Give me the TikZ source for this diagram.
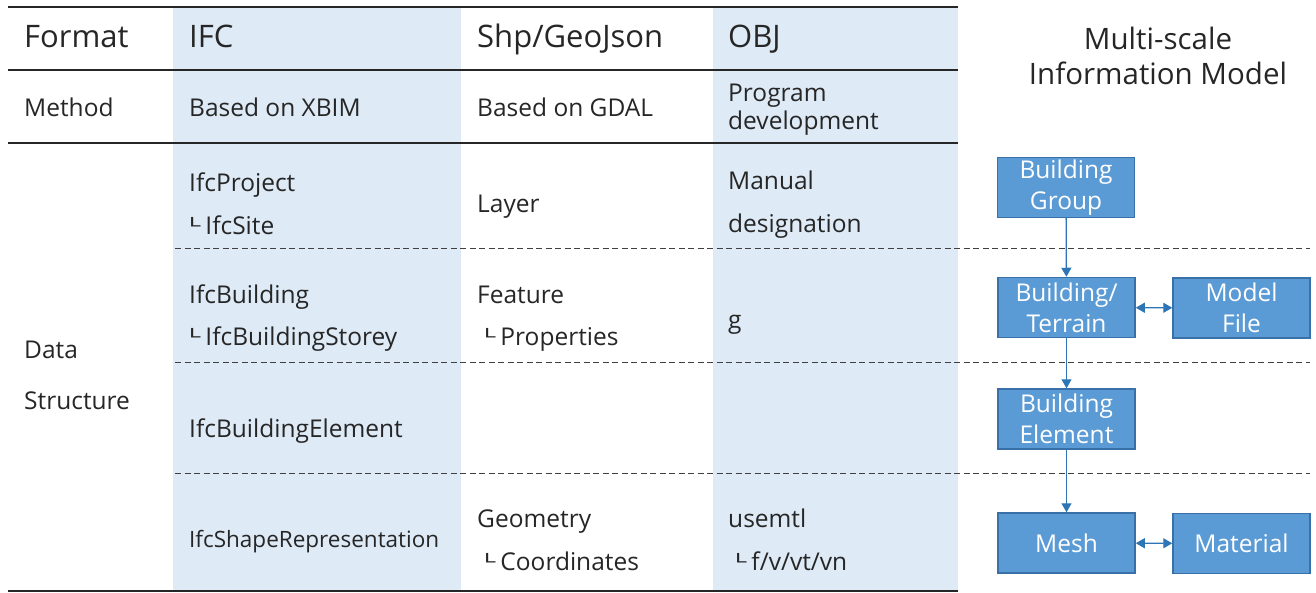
\documentclass[tikz,border=0pt]{standalone}
\usepackage{fontspec}
\setmainfont{Open Sans}
\newfontfamily\symfont{DejaVu Sans}
\usetikzlibrary{arrows.meta}

\definecolor{colshade}{HTML}{DEEAF6}
\definecolor{boxfill}{HTML}{5B9BD5}
\definecolor{boxline}{HTML}{3A70A8}
\definecolor{arrowblue}{HTML}{2E75B6}
\definecolor{txt}{HTML}{262626}

\newcommand\branch{{\symfont\fontsize{15}{15}\selectfont\raisebox{3pt}{\scalebox{1.8}[1]{└}}}}

\tikzstyle{every picture}+=[x=1pt,y=-1pt]
\tikzset{
  head/.style={anchor=base west,inner sep=0pt,text=txt,font=\fontsize{31}{35}\selectfont},
  title/.style={anchor=base,inner sep=0pt,text=txt,font=\fontsize{29.5}{35}\selectfont},
  cell/.style={anchor=base west,inner sep=0pt,text=txt,font=\fontsize{24.5}{28}\selectfont},
  rule/.style={line width=1.6pt,draw=black!85},
  sep/.style={dash pattern=on 6pt off 3.5pt,line width=0.9pt,draw=black!75},
  layer/.style={draw=boxline,line width=1.5pt,fill=boxfill,text=white,
    minimum width=137pt,minimum height=60pt,align=center,inner sep=0pt,
    font=\fontsize{24.5}{31}\selectfont},
  link/.style={draw=arrowblue,line width=1.3pt,-{Triangle[width=10pt,length=9pt]}},
  pair/.style={draw=arrowblue,line width=1.3pt,
    {Triangle[width=10pt,length=9pt]}-{Triangle[width=10pt,length=9pt]}}
}

\begin{document}
\begin{tikzpicture}
\useasboundingbox (0,0) rectangle (1316,593);

% shaded columns
\fill[colshade] (173,7) rectangle (461,591);
\fill[colshade] (713,7) rectangle (958,591);

% table rules
\draw[rule] (8,7) -- (958,7);
\draw[rule] (8,70) -- (958,70);
\draw[rule] (8,143) -- (958,143);
\draw[rule] (8,591) -- (958,591);
\draw[sep] (175,248) -- (1310,248);
\draw[sep] (175,362) -- (1310,362);
\draw[sep] (175,473) -- (1310,473);

% header
\node[head] (fmt) at (24,48) {Format};
\node[head] (ifc) at (189,48) {IFC};
\node[head] (shp) at (477,48) {Shp/GeoJson};
\node[head] (obj) at (728,48) {OBJ};
\node[title] (msim) at (1158,50) {Multi-scale};
\node[title] (model) at (1158,85) {Information Model};

% method row
\node[cell] (meth) at (24,117) {Method};
\node[cell] (xbim) at (189,117) {Based on XBIM};
\node[cell] (gdal) at (477,117) {Based on GDAL};
\node[cell] (prog) at (728,102) {Program};
\node[cell] (dev) at (728,130) {development};

% data structure
\node[cell] (data) at (24,358) {Data};
\node[cell] (struct) at (24,409) {Structure};

\node[cell] (proj) at (189,192) {IfcProject};
\node[cell] (site) at (184,235) {\branch\hspace{5pt}IfcSite};
\node[cell] (layer) at (477,213) {Layer};
\node[cell] (manual) at (728,190) {Manual};
\node[cell] (desig) at (728,233) {designation};

\node[cell] (bldg) at (189,304) {IfcBuilding};
\node[cell] (storey) at (184,345) {\branch\hspace{5pt}IfcBuildingStorey};
\node[cell] (feat) at (477,304) {Feature};
\node[cell] (prop) at (479,345) {\branch\hspace{5pt}Properties};
\node[cell] (grp) at (728,328) {g};

\node[cell] (elem) at (189,437) {IfcBuildingElement};

\node[cell,font=\fontsize{22.5}{26}\selectfont] (shape) at (189,547) {IfcShapeRepresentation};
\node[cell] (geom) at (477,527) {Geometry};
\node[cell] (coord) at (479,570) {\branch\hspace{5pt}Coordinates};
\node[cell] (usemtl) at (728,527) {usemtl};
\node[cell] (face) at (730,570) {\branch\hspace{5pt}f/v/vt/vn};

% multi-scale model
\node[layer] (group) at (1066,187.5) {Building\\Group};
\node[layer] (terrain) at (1066.5,307.5) {Building/\\Terrain};
\node[layer] (file) at (1241.5,308) {Model\\File};
\node[layer] (elemt) at (1066.5,419) {Building\\Element};
\node[layer] (mesh) at (1066.5,543) {Mesh};
\node[layer] (mat) at (1241.5,543.5) {Material};

\draw[link] (group) -- (terrain);
\draw[link] (terrain) -- (elemt);
\draw[link] (elemt) -- (mesh);
\draw[pair] (terrain) -- (file);
\draw[pair] (mesh) -- (mat);

\end{tikzpicture}
\end{document}
